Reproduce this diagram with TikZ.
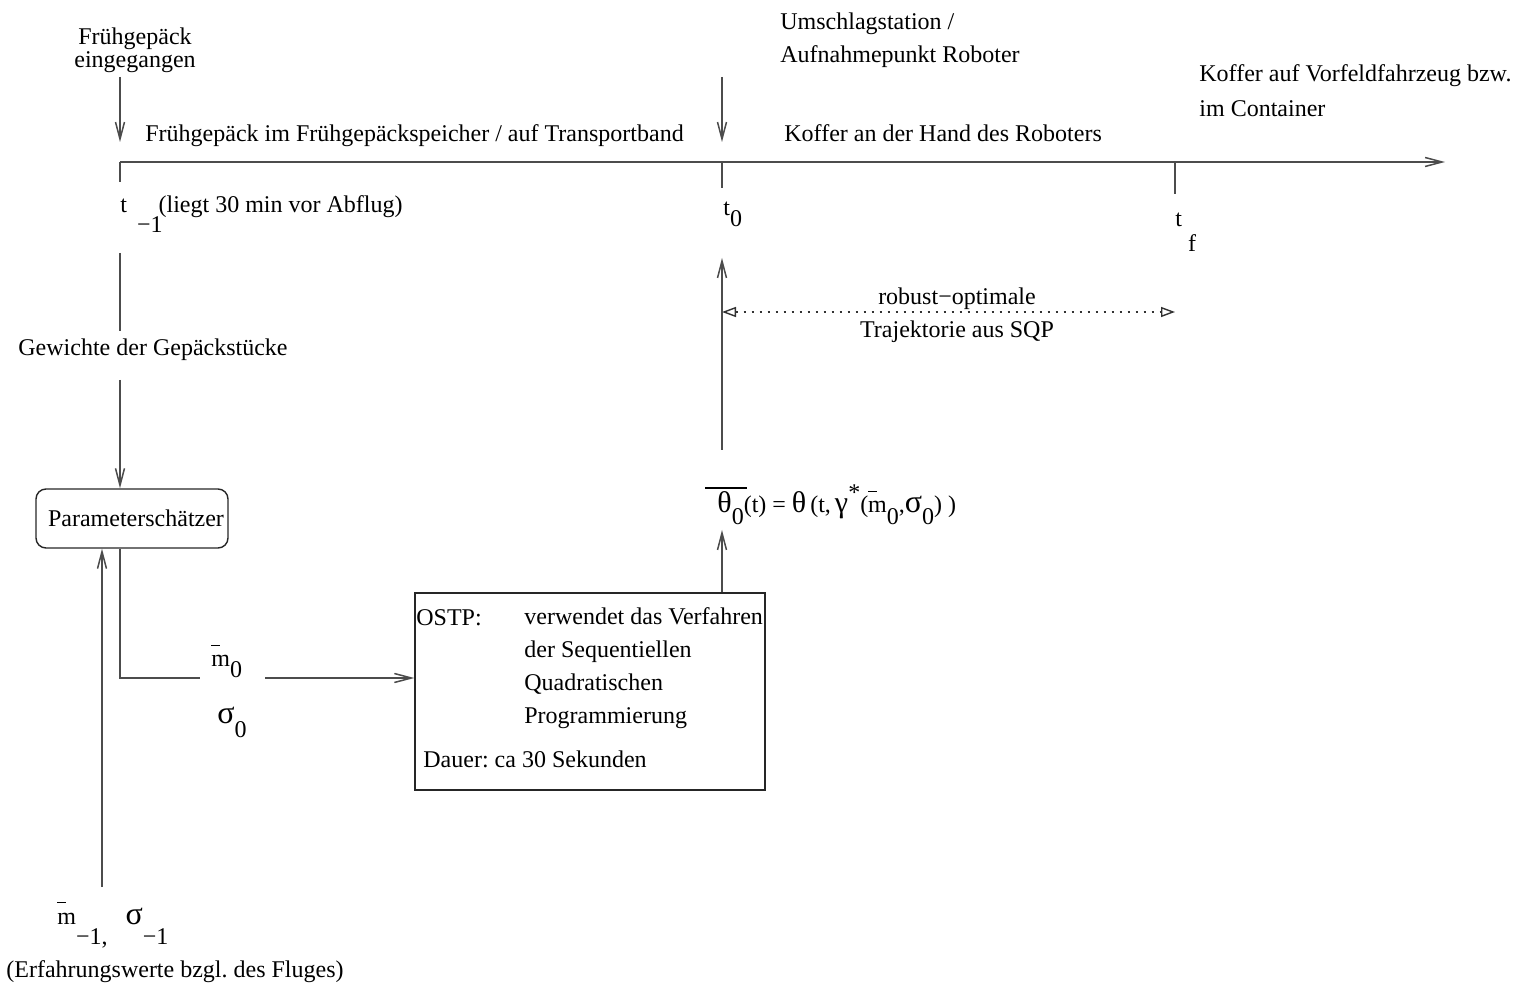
\documentclass[tikz,border=0pt]{standalone}
\usepackage{fontspec}
\setmainfont{Liberation Serif}
\usetikzlibrary{arrows.meta}
% lowered subscript as set in the figure
\newcommand\lo[2][6pt]{\raisebox{-#1}{#2}}
% larger Greek letters
\newcommand\gk[2][16]{{\fontsize{#1}{#1}\selectfont #2}}
% overline placed above a symbol group
\newcommand\ovl[1]{\rlap{\kern-6pt\raisebox{12pt}{\rule{21pt}{0.75pt}}}#1}
% m with a short bar over its left part
\newcommand\mbar{\rlap{\raisebox{10.5pt}{\rule{4.5pt}{0.5pt}}}m}

\begin{document}
\frenchspacing
\begin{tikzpicture}[x=0.5pt,y=-0.5pt,
  ln/.style={line width=0.75pt, draw=black!70},
  arr/.style={ln, -{Straight Barb[length=8.5pt,width=4.5pt]}},
  txt/.style={anchor=base west, inner sep=0pt, font=\fontsize{12}{14}\selectfont},
  ctxt/.style={txt, anchor=base},
  pbox/.style={draw=black!85, line width=0.7pt, rounded corners=5pt,
    minimum width=96pt, minimum height=29.5pt, inner sep=0pt,
    font=\fontsize{12}{14}\selectfont},
  obox/.style={draw=black!85, line width=0.7pt, minimum width=175pt,
    minimum height=98.5pt, inner sep=0pt},
  span/.style={line width=0.7pt, draw=black!80, dash pattern=on 1pt off 3pt,
    {Triangle[open,length=7pt,width=5pt]}-{Triangle[open,length=7pt,width=5pt]}}
]
\useasboundingbox (0,0) rectangle (1522,994);

% time axis and its marks
\coordinate (tm1) at (120,162);
\coordinate (tz) at (722,162);
\coordinate (tfp) at (1175,162);
\coordinate (axend) at (1445,162);
\draw[arr] (tm1) -- (axend);
\draw[ln] (tm1) -- ++(0,20);
\draw[ln] (tz) -- ++(0,26);
\draw[ln] (tfp) -- ++(0,32);

% events above the axis (multi-line nodes sit on their last baseline)
\node[ctxt, align=center, font=\fontsize{12}{11.5}\selectfont] (eing) at (135,68) {Frühgepäck\\eingegangen};
\node[txt, align=left, font=\fontsize{12}{16.5}\selectfont] (umsch) at (780,63) {Umschlagstation /\\Aufnahmepunkt Roboter};
\node[txt, align=left, font=\fontsize{12}{17.5}\selectfont] (ziel) at (1199,117) {Koffer auf Vorfeldfahrzeug bzw.\\im Container};
\coordinate (eingA) at (120,77);
\coordinate (eingB) at (120,142);
\coordinate (umschA) at (722,77);
\coordinate (umschB) at (722,142);
\draw[arr] (eingA) -- (eingB);
\draw[arr] (umschA) -- (umschB);

\node[txt] (phase1) at (145,142) {Frühgepäck im Frühgepäckspeicher / auf Transportband};
\node[txt] (phase2) at (784,142) {Koffer an der Hand des Roboters};

% time labels
\node[txt] (lm1) at (120,213) {t\hspace{5pt}\lo[10pt]{−1}\kern-2pt(liegt 30 min vor Abflug)};
\node[txt] (l0) at (723,216) {t\lo[5.5pt]{0}};
\node[txt] (lf) at (1175,227) {t\hspace{3pt}\lo[12.5pt]{f}};

% optimal trajectory span
\coordinate (spanA) at (722,312);
\coordinate (spanB) at (1175,312);
\draw[span] (spanA) -- (spanB);
\node[ctxt] (rob) at (957,305) {robust−optimale};
\node[ctxt] (traj) at (957,338) {Trajektorie aus SQP};

% weights to the estimator
\coordinate (wA) at (120,253);
\coordinate (wB) at (120,331);
\draw[ln] (wA) -- (wB);
\node[txt] (gew) at (18,356) {Gewichte der Gepäckstücke};
\coordinate (wC) at (120,380);
\node[pbox] (param) at (132,518.5) {\hspace{4pt}Parameterschätzer};
\draw[arr] (wC) -- (param.north -| wC);

% prior values into the estimator
\coordinate (prior) at (102,887);
\draw[arr] (prior) -- (param.south -| prior);
\node[txt] (mprior) at (57,924) {\mbar\lo[10pt]{−1,}\hspace{9pt}\gk{σ}\lo[10pt]{−1}};
\node[txt] (erf) at (6,977) {(Erfahrungswerte bzgl. des Fluges)};

% estimates to OSTP
\node[txt] (m0) at (211,667) {\mbar\lo[5.5pt]{0}};
\node[txt] (s0) at (217,723) {\gk{σ}\lo[7pt]{0}};
\node[obox] (ostp) at (590,691.5) {};
\coordinate (bend) at (120,678);
\coordinate (mL) at (200,678);
\coordinate (mR) at (265,678);
\draw[ln] (param.south -| bend) -- (bend) -- (mL);
\draw[arr] (mR) -- (ostp.west |- mR);

\node[txt] (ostpk) at (416,625) {OSTP:};
\node[txt, align=left, font=\fontsize{12}{16.4}\selectfont] (verf) at (524,723) {verwendet das Verfahren\\der Sequentiellen\\Quadratischen\\Programmierung};
\node[txt] (dauer) at (423,767) {Dauer: ca 30 Sekunden};

% optimal trajectory result
\node[txt] (theta) at (717,513) {\ovl{\gk[15]{θ}\lo[6pt]{0}}(t) = \gk[15]{θ}\,(t,\,\gk[15]{γ}\raisebox{6pt}{*}(\mbar\lo[6pt]{0},\gk{σ}\lo[6pt]{0}) )};
\coordinate (thB) at (722,530);
\coordinate (thT) at (722,450);
\coordinate (t0B) at (722,258);
\draw[arr] (ostp.north -| thB) -- (thB);
\draw[arr] (thT) -- (t0B);
\end{tikzpicture}
\end{document}
